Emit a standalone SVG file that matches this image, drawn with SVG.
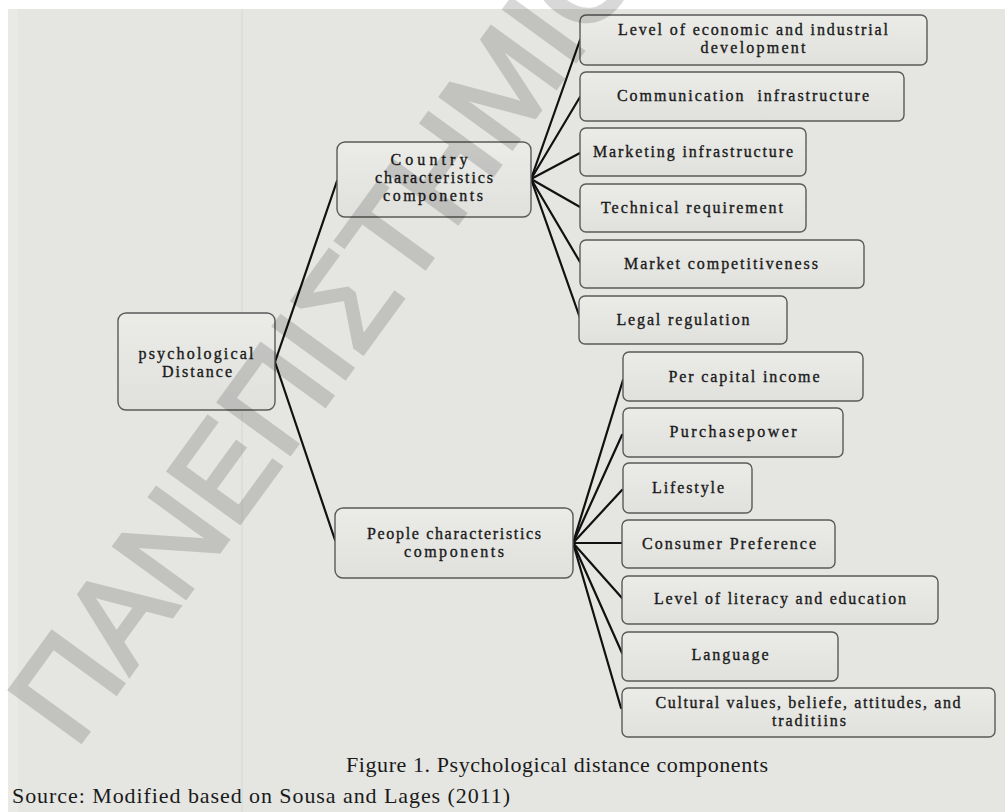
<svg xmlns="http://www.w3.org/2000/svg" width="1005" height="812" viewBox="0 0 1005 812">
<style>
.box{fill:url(#bg);stroke:#5a5a5a;stroke-width:1.4}
.t{font-family:"Liberation Serif","Times New Roman",serif;font-size:16px;fill:#1a1a1a;stroke:#1a1a1a;stroke-width:0.35;text-anchor:middle}
.c{stroke:#111;stroke-width:2.2;fill:none;stroke-linecap:round}
.cap{font-family:"Liberation Serif","Times New Roman",serif;font-size:22px;fill:#1a1a1a}
.wm{font-family:"Liberation Sans",Arial,sans-serif;font-size:128px;fill:#000;stroke:#000;stroke-width:4;stroke-linejoin:miter}
</style>
<defs>
<linearGradient id="bg" x1="0" y1="0" x2="0" y2="1">
<stop offset="0" stop-color="#ebebe8"/>
<stop offset="1" stop-color="#e0e1dd"/>
</linearGradient>
</defs>
<rect x="0" y="0" width="1005" height="812" fill="#ffffff"/>
<rect x="8" y="9" width="997" height="803" fill="#e5e6e2"/>
<rect x="8" y="9" width="10" height="803" fill="#e9eae6"/>
<line x1="242" y1="9" x2="242" y2="812" stroke="#d6d6d2" stroke-width="1"/>

<g id="connectors">
<line class="c" x1="275" y1="362" x2="337" y2="181"/>
<line class="c" x1="275" y1="362" x2="335" y2="540"/>
<line class="c" x1="531" y1="179" x2="580" y2="40"/>
<line class="c" x1="531" y1="179" x2="580" y2="97"/>
<line class="c" x1="531" y1="179" x2="580" y2="153"/>
<line class="c" x1="531" y1="179" x2="580" y2="207"/>
<line class="c" x1="531" y1="179" x2="580" y2="262"/>
<line class="c" x1="531" y1="179" x2="580" y2="318"/>
<line class="c" x1="573" y1="543" x2="623" y2="380"/>
<line class="c" x1="573" y1="543" x2="622" y2="435"/>
<line class="c" x1="573" y1="543" x2="622" y2="490"/>
<line class="c" x1="573" y1="543" x2="622" y2="543"/>
<line class="c" x1="573" y1="543" x2="622" y2="598"/>
<line class="c" x1="573" y1="543" x2="622" y2="653"/>
<line class="c" x1="573" y1="543" x2="621" y2="708"/>
</g>

<g id="psych">
<rect class="box" x="118" y="313" width="157" height="97" rx="8"/>
<text class="t"><tspan x="196" y="359" textLength="115">psychological</tspan><tspan x="197" y="377" textLength="70">Distance</tspan></text>
</g>
<g id="country">
<rect class="box" x="337" y="142" width="194" height="75" rx="8"/>
<text class="t"><tspan x="429" y="165" textLength="77">Country</tspan><tspan x="434" y="183" textLength="118">characteristics</tspan><tspan x="433" y="201" textLength="100">components</tspan></text>
</g>
<g id="people">
<rect class="box" x="335" y="508" width="238" height="70" rx="8"/>
<text class="t"><tspan x="454" y="539" textLength="174">People characteristics</tspan><tspan x="454" y="557" textLength="100">components</tspan></text>
</g>

<g id="c1">
<rect class="box" x="580" y="15" width="347" height="50" rx="6"/>
<text class="t"><tspan x="753" y="35" textLength="270">Level of economic and industrial</tspan><tspan x="753" y="53" textLength="105">development</tspan></text>
</g>
<g id="c2">
<rect class="box" x="580" y="72" width="324" height="49" rx="6"/>
<text class="t" x="743" y="101" textLength="252" xml:space="preserve">Communication  infrastructure</text>
</g>
<g id="c3">
<rect class="box" x="580" y="128" width="226" height="48" rx="6"/>
<text class="t" x="693" y="157" textLength="200">Marketing infrastructure</text>
</g>
<g id="c4">
<rect class="box" x="580" y="184" width="226" height="48" rx="6"/>
<text class="t" x="692" y="213" textLength="182">Technical requirement</text>
</g>
<g id="c5">
<rect class="box" x="580" y="240" width="284" height="48" rx="6"/>
<text class="t" x="721" y="269" textLength="194">Market competitiveness</text>
</g>
<g id="c6">
<rect class="box" x="579" y="296" width="208" height="48" rx="6"/>
<text class="t" x="683" y="325" textLength="133">Legal regulation</text>
</g>

<g id="p1">
<rect class="box" x="623" y="352" width="240" height="49" rx="6"/>
<text class="t" x="744" y="382" textLength="151">Per capital income</text>
</g>
<g id="p2">
<rect class="box" x="623" y="408" width="220" height="49" rx="6"/>
<text class="t" x="733" y="437" textLength="127">Purchasepower</text>
</g>
<g id="p3">
<rect class="box" x="623" y="463" width="129" height="50" rx="6"/>
<text class="t" x="688" y="493" textLength="72">Lifestyle</text>
</g>
<g id="p4">
<rect class="box" x="622" y="520" width="213" height="48" rx="6"/>
<text class="t" x="729" y="549" textLength="174">Consumer Preference</text>
</g>
<g id="p5">
<rect class="box" x="622" y="576" width="316" height="48" rx="6"/>
<text class="t" x="780" y="604" textLength="252">Level of literacy and education</text>
</g>
<g id="p6">
<rect class="box" x="622" y="632" width="216" height="49" rx="6"/>
<text class="t" x="730" y="660" textLength="77">Language</text>
</g>
<g id="p7">
<rect class="box" x="622" y="688" width="373" height="49" rx="6"/>
<text class="t"><tspan x="808" y="708" textLength="305">Cultural values, beliefe, attitudes, and</tspan><tspan x="809" y="726" textLength="74">traditiins</tspan></text>
</g>

<g id="caption">
<text class="cap" x="346" y="772" textLength="422">Figure 1. Psychological distance components</text>
<text class="cap" x="12" y="803" textLength="498">Source: Modified based on Sousa and Lages (2011)</text>
</g>

<g id="watermark" opacity="0.15">
<text class="wm" x="75" y="750" transform="rotate(-54 75 750)">ΠΑΝΕΠΙΣΤΗΜΙΟ</text>
</g>
</svg>
